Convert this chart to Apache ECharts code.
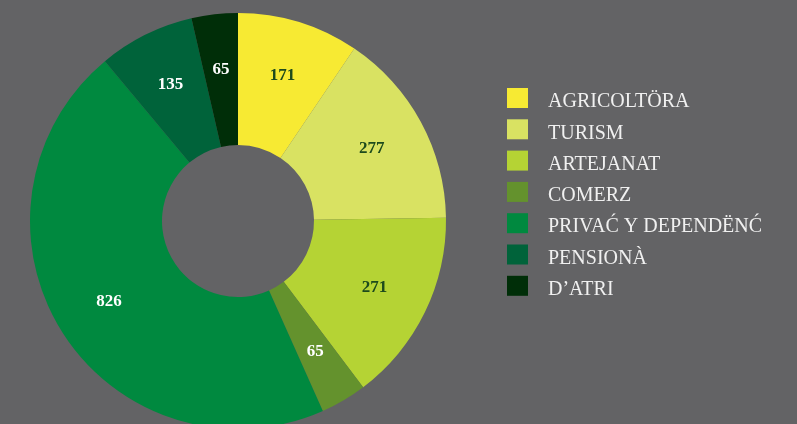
<!DOCTYPE html>
<html>
<head>
<meta charset="utf-8">
<script src="https://cdn.jsdelivr.net/npm/echarts@6/dist/echarts.min.js"></script>
<style>
  html, body { margin: 0; padding: 0; background: #636365; }
  #chart { width: 797px; height: 424px; }
</style>
</head>
<body>
<div id="chart"></div>
<script>
// Workers by sector
const categories = ['AGRICOLTÖRA', 'TURISM', 'ARTEJANAT', 'COMERZ', 'PRIVAĆ Y DEPENDËNĆ', 'PENSIONÀ', 'D’ATRI'];
const values = [171, 277, 271, 65, 826, 135, 65];
const colors = ['#f7ea33', '#d9e262', '#b5d334', '#64922d', '#00893f', '#00633a', '#002e08'];
const labelColors = ['#1d4a1c', '#1d4a1c', '#1d4a1c', '#ffffff', '#ffffff', '#ffffff', '#ffffff'];

const serif = '"Liberation Serif", "DejaVu Serif", serif';
const center = [238, 221];

const ringData = categories.map((name, i) => ({
  name, value: values[i], itemStyle: { color: colors[i] }
}));
const labelData = categories.map((name, i) => ({
  name, value: values[i],
  label: { color: labelColors[i] }
}));

const chart = echarts.init(document.getElementById('chart'));
chart.setOption({
  backgroundColor: '#636365',
  animation: false,
  legend: {
    orient: 'vertical',
    left: 507,
    top: 88,
    padding: 0,
    itemWidth: 21,
    itemHeight: 20,
    itemGap: 7.3,
    icon: 'rect',
    data: categories,
    formatter: name => '{t|' + name + '}',
    textStyle: {
      color: '#f0f0f0',
      fontFamily: serif,
      fontSize: 20,
      rich: {
        t: {
          color: '#f0f0f0',
          fontFamily: serif,
          fontSize: 20,
          padding: [8, 0, 0, 15]
        }
      }
    }
  },
  series: [
    {
      type: 'pie',
      center: center,
      radius: [76, 208],
      startAngle: 90,
      clockwise: true,
      label: { show: false },
      labelLine: { show: false },
      emphasis: { disabled: true },
      data: ringData
    },
    {
      // value labels placed a little outside the middle of the ring
      type: 'pie',
      center: center,
      radius: [90, 208],
      startAngle: 90,
      clockwise: true,
      silent: true,
      itemStyle: { color: 'rgba(0,0,0,0)' },
      label: {
        show: true,
        position: 'inside',
        formatter: '{c}',
        fontFamily: serif,
        fontWeight: 'bold',
        fontSize: 17
      },
      labelLine: { show: false },
      emphasis: { disabled: true },
      data: labelData
    }
  ]
});
</script>
</body>
</html>
